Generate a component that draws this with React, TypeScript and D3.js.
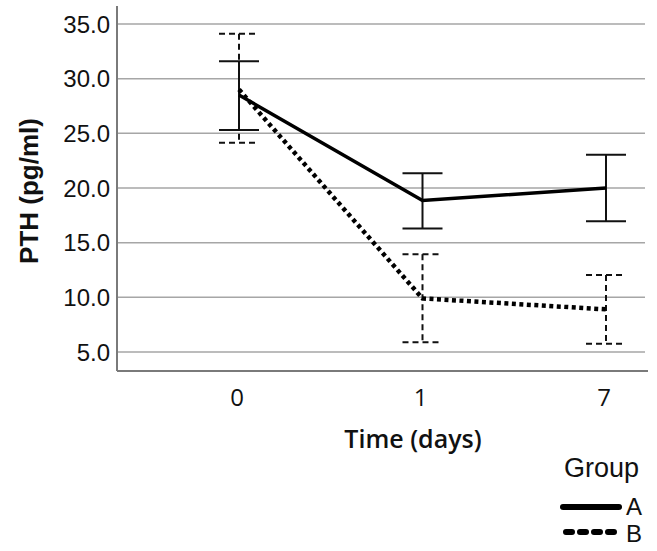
import React from "react";
import * as d3 from "d3";

const categories = ["0", "1", "7"];
const groupNames = ["A", "B"];
const meanA = [28.5, 18.85, 20.0];
const upperA = [31.6, 21.35, 23.05];
const lowerA = [25.3, 16.3, 16.95];
const meanB = [29.0, 9.9, 8.9];
const upperB = [34.1, 13.95, 12.05];
const lowerB = [24.15, 5.9, 5.75];
const yTicks = [5, 10, 15, 20, 25, 30, 35];

const W = 657;
const H = 551;

export default function App() {
  const x = d3.scalePoint<string>().domain(categories).range([239, 606]);
  const y = d3.scaleLinear().domain([5, 35]).range([352, 24]);
  const yBottom = 371;
  const yTop = 6;
  const left = 117;
  const right = 645;

  const series = [
    { name: groupNames[0], mean: meanA, up: upperA, lo: lowerA, lineW: 3.5, lineDash: undefined as string | undefined, errDash: undefined as string | undefined },
    { name: groupNames[1], mean: meanB, up: upperB, lo: lowerB, lineW: 4.5, lineDash: "4,3.5", errDash: "6,4" },
  ];

  const line = d3
    .line<number>()
    .x((_, i) => x(categories[i]) as number)
    .y((d) => y(d));

  const cap = 20;

  return (
    <svg width={W} height={H} style={{ position: "absolute", left: 0, top: 0, background: "#fff" }}>
      {yTicks.map((t) => (
        <line key={t} x1={left} x2={right} y1={y(t)} y2={y(t)} stroke="#a6a6a6" strokeWidth={1.5} />
      ))}
      <line x1={left} x2={left} y1={yTop} y2={yBottom} stroke="#7a7a7a" strokeWidth={2} />
      <line x1={left} x2={648} y1={yBottom} y2={yBottom} stroke="#7a7a7a" strokeWidth={2} />
      {yTicks.map((t) => (
        <text
          key={t}
          x={110}
          y={y(t)}
          dy="0.36em"
          textAnchor="end"
          fontFamily="Liberation Sans, Arial, sans-serif"
          fontSize={24}
          fill="#111"
        >
          {t.toFixed(1)}
        </text>
      ))}
      <text
        transform={`translate(38,${191}) rotate(-90)`}
        textAnchor="middle"
        fontFamily="Liberation Sans, Arial, sans-serif"
        fontWeight="bold"
        fontSize={26}
        fill="#111"
      >
        PTH (pg/ml)
      </text>
      {categories.map((c) => (
        <text
          key={c}
          x={(x(c) as number) - 2}
          y={406}
          textAnchor="middle"
          fontFamily="Open Sans, sans-serif"
          fontSize={24}
          fill="#111"
        >
          {c}
        </text>
      ))}
      <text x={413} y={448} textAnchor="middle" fontFamily="Open Sans, sans-serif" fontWeight={600} fontSize={25} fill="#111">
        Time (days)
      </text>
      {series.map((s) =>
        categories.map((c, i) => {
          const cx = x(c) as number;
          return (
            <g key={s.name + c} stroke="#111" strokeWidth={2} strokeDasharray={s.errDash}>
              <line x1={cx} x2={cx} y1={y(s.up[i])} y2={y(s.lo[i])} />
              <line x1={cx - cap} x2={cx + cap} y1={y(s.up[i])} y2={y(s.up[i])} />
              <line x1={cx - cap} x2={cx + cap} y1={y(s.lo[i])} y2={y(s.lo[i])} />
            </g>
          );
        })
      )}
      {series.map((s) => (
        <path key={s.name} d={line(s.mean) as string} fill="none" stroke="#000" strokeWidth={s.lineW} strokeDasharray={s.lineDash} />
      ))}
      <text x={564} y={477} fontFamily="Liberation Sans, Arial, sans-serif" fontSize={27} fill="#111">
        Group
      </text>
      <line x1={563} x2={619} y1={507} y2={507} stroke="#000" strokeWidth={6} strokeLinecap="round" />
      <text x={626} y={515} fontFamily="Liberation Sans, Arial, sans-serif" fontSize={24} fill="#111">
        {groupNames[0]}
      </text>
      <line x1={566} x2={618} y1={532} y2={532} stroke="#000" strokeWidth={6} strokeDasharray="6,8" strokeLinecap="round" />
      <text x={626} y={542} fontFamily="Liberation Sans, Arial, sans-serif" fontSize={24} fill="#111">
        {groupNames[1]}
      </text>
    </svg>
  );
}
